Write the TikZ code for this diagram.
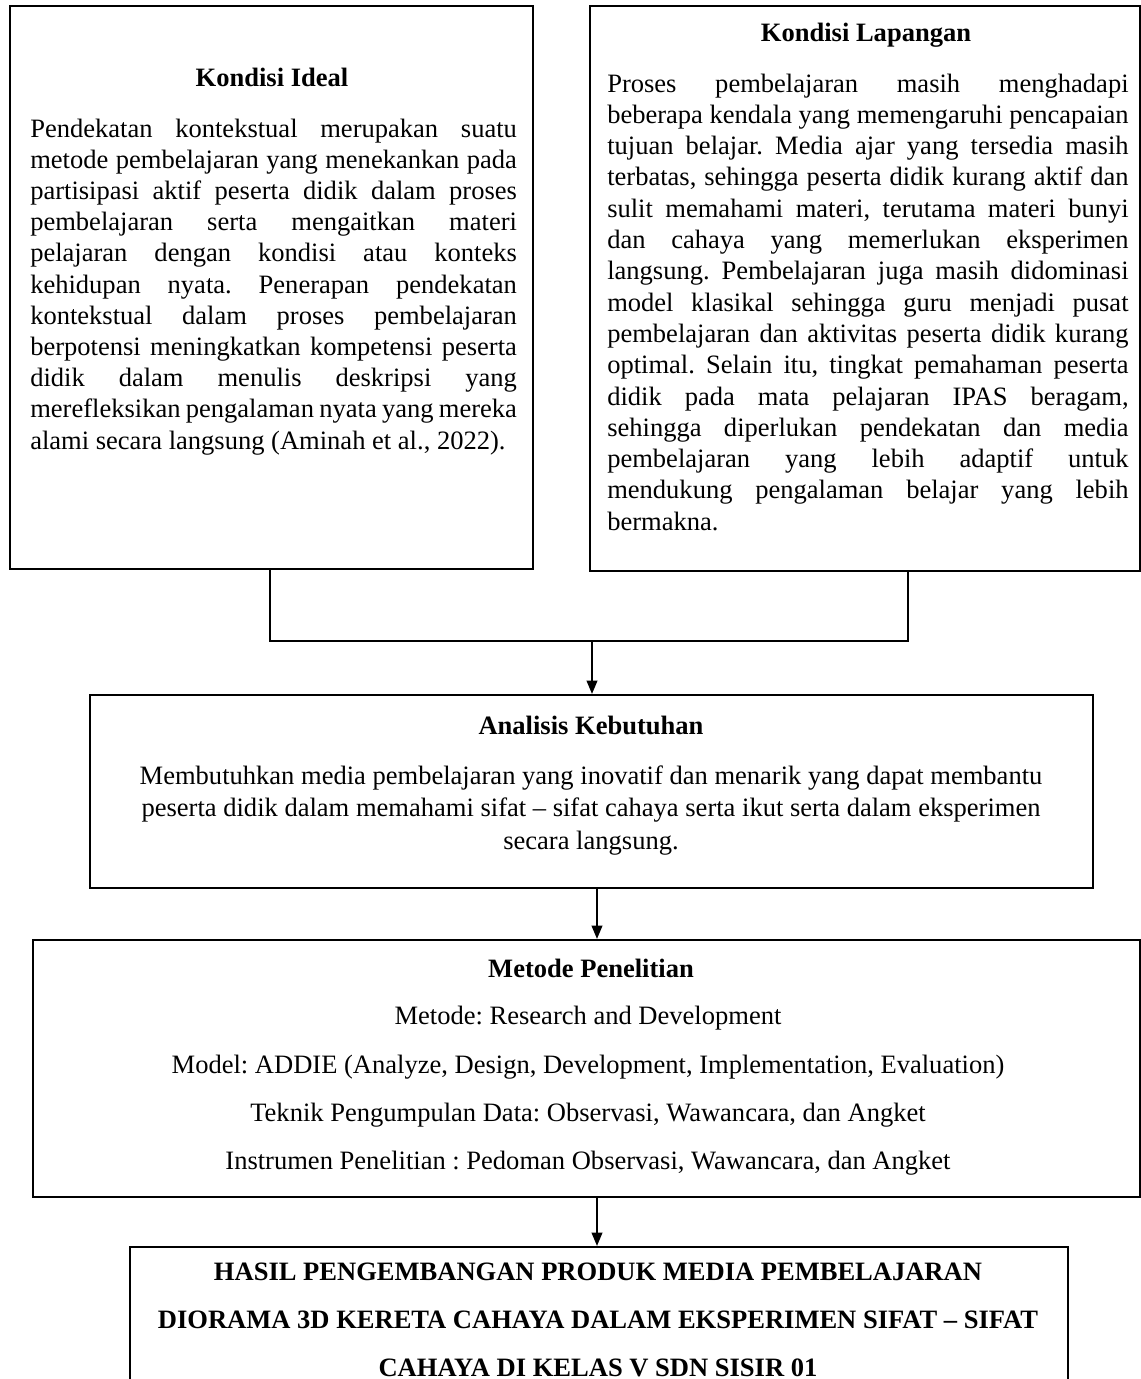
\documentclass[tikz,border=0pt]{standalone}
\usepackage{fontspec}
\setmainfont{Liberation Serif}
\usetikzlibrary{arrows.meta}
\newcommand\jl[2]{\makebox[#1][s]{#2}}
\frenchspacing
\begin{document}
\begin{tikzpicture}[x=0.75pt,y=-0.75pt,
  box/.style={draw, line width=1.6pt, inner sep=0pt},
  ttl/.style={font=\fontsize{19.9}{23.4}\selectfont\bfseries, anchor=base, inner sep=0pt},
  txt/.style={font=\fontsize{19.9}{23.4}\selectfont, anchor=base west, inner sep=0pt},
  ctr/.style={font=\fontsize{19.9}{23.4}\selectfont, anchor=base, inner sep=0pt},
  conn/.style={line width=1.4pt},
  arr/.style={conn, -{Triangle[length=10pt,width=8pt]}}]
\useasboundingbox (0,0) rectangle (1141,1379);
\clip (0,0) rectangle (1141,1379);
\fill[white] (0,0) rectangle (1141,1379);

% boxes
\node[box, minimum width=523*0.75pt, minimum height=563*0.75pt] (ideal) at (271.5,287.5) {};
\node[box, minimum width=550*0.75pt, minimum height=565*0.75pt] (lapangan) at (865,288.5) {};
\node[box, minimum width=1003*0.75pt, minimum height=193*0.75pt] (analisis) at (591.5,791.5) {};
\node[box, minimum width=1107*0.75pt, minimum height=257*0.75pt] (metode) at (586.5,1068.5) {};
\node[box, minimum width=938*0.75pt, minimum height=170*0.75pt] (hasil) at (599,1332) {};

% Kondisi Ideal
\node[ttl] (tIdeal) at (272,86) {Kondisi Ideal};
\foreach \t [count=\i] in {{Pendekatan kontekstual merupakan suatu},
  {metode pembelajaran yang menekankan pada},
  {partisipasi aktif peserta didik dalam proses},
  {pembelajaran serta mengaitkan materi},
  {pelajaran dengan kondisi atau konteks},
  {kehidupan nyata. Penerapan pendekatan},
  {kontekstual dalam proses pembelajaran},
  {berpotensi meningkatkan kompetensi peserta},
  {didik dalam menulis deskripsi yang},
  {merefleksikan pengalaman nyata yang mereka}}
  \node[txt] (iL\i) at (30,{137+31.2*(\i-1)}) {\jl{365pt}{\t}};
\node[txt] (iL11) at (30,{137+31.2*10}) {alami secara langsung (Aminah et al., 2022).};

% Kondisi Lapangan
\node[ttl] (tLap) at (866,41) {Kondisi Lapangan};
\foreach \t [count=\i] in {{Proses pembelajaran masih menghadapi},
  {beberapa kendala yang memengaruhi pencapaian},
  {tujuan belajar. Media ajar yang tersedia masih},
  {terbatas, sehingga peserta didik kurang aktif dan},
  {sulit memahami materi, terutama materi bunyi},
  {dan cahaya yang memerlukan eksperimen},
  {langsung. Pembelajaran juga masih didominasi},
  {model klasikal sehingga guru menjadi pusat},
  {pembelajaran dan aktivitas peserta didik kurang},
  {optimal. Selain itu, tingkat pemahaman peserta},
  {didik pada mata pelajaran IPAS beragam,},
  {sehingga diperlukan pendekatan dan media},
  {pembelajaran yang lebih adaptif untuk},
  {mendukung pengalaman belajar yang lebih}}
  \node[txt] (rL\i) at (607,{92+31.3*(\i-1)}) {\jl{391pt}{\t}};
\node[txt] (rL15) at (607,{92+31.3*14}) {bermakna.};

% Analisis Kebutuhan
\node[ttl] (tAn) at (591,734) {Analisis Kebutuhan};
\node[ctr] (a1) at (591,784) {Membutuhkan media pembelajaran yang inovatif dan menarik yang dapat membantu};
\node[ctr] (a2) at (591,816.5) {peserta didik dalam memahami sifat -- sifat cahaya serta ikut serta dalam eksperimen};
\node[ctr] (a3) at (591,849) {secara langsung.};

% Metode Penelitian
\node[ttl] (tMet) at (591,977) {Metode Penelitian};
\node[ctr] (m1) at (588,1024) {Metode: Research and Development};
\node[ctr] (m2) at (588,1073) {Model: ADDIE (Analyze, Design, Development, Implementation, Evaluation)};
\node[ctr] (m3) at (588,1121) {Teknik Pengumpulan Data: Observasi, Wawancara, dan Angket};
\node[ctr] (m4) at (588,1169) {Instrumen Penelitian : Pedoman Observasi, Wawancara, dan Angket};

% Hasil
\node[ttl] (h1) at (598,1280) {HASIL PENGEMBANGAN PRODUK MEDIA PEMBELAJARAN};
\node[ttl] (h2) at (598,1328) {DIORAMA 3D KERETA CAHAYA DALAM EKSPERIMEN SIFAT -- SIFAT};
\node[ttl] (h3) at (598,1376) {CAHAYA DI KELAS V SDN SISIR 01};

% connectors
\coordinate (j) at (592,641);
\coordinate (rjoin) at (908,571);
\coordinate (ljoin) at (270,569);
\draw[conn] (ljoin) |- (rjoin |- j) -- (rjoin);
\draw[arr] (j) -- (j |- analisis.north);
\coordinate (k) at (597,888);
\draw[arr] (k) -- (k |- metode.north);
\coordinate (q) at (597,1197);
\draw[arr] (q) -- (q |- hasil.north);
\end{tikzpicture}
\end{document}
